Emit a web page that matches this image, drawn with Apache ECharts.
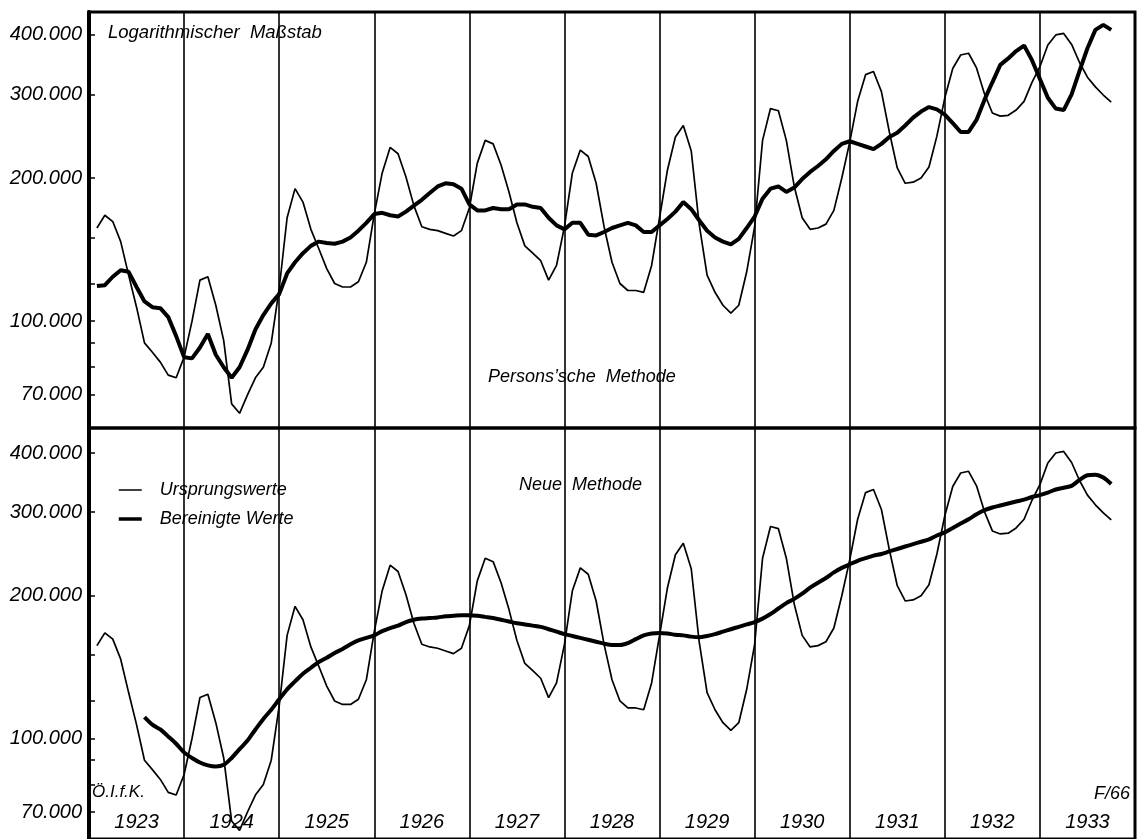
<!DOCTYPE html>
<html>
<head>
<meta charset="utf-8">
<script src="https://cdn.jsdelivr.net/npm/echarts@6/dist/echarts.min.js"></script>
<style>
html,body{margin:0;padding:0;background:#fff;}
#chart{width:1137px;height:839px;}
</style>
</head>
<body>
<div id="chart"></div>
<script>
// ---- data (values in thousands, monthly, end-of-month, Jan 1923 .. Sep 1933) ----
const startYear = 1923;
const years = ['1923','1924','1925','1926','1927','1928','1929','1930','1931','1932','1933'];
const yTickLabels = [70000, 100000, 200000, 300000, 400000];
const yTicks = [70000, 80000, 90000, 100000, 120000, 150000, 200000, 300000, 400000];

// Ursprungswerte (original values)
const originalValues = [
  157, 167, 162, 147, 125, 107, 90, 86, 82, 77, 76, 84,          // 1923
  100, 122, 124, 108, 91, 67, 64, 70, 76, 80, 90, 117,           // 1924
  165, 190, 178, 156, 142, 129, 120, 118, 118, 121, 133, 168,    // 1925
  205, 232, 225, 201, 175, 158, 156, 155, 153, 151, 155, 173,    // 1926
  215, 240, 236, 213, 187, 161, 144, 139, 134, 122, 131, 158,    // 1927
  205, 229, 222, 195, 158, 133, 120, 116, 116, 115, 131, 165,    // 1928
  208, 244, 258, 228, 160, 125, 115, 108, 104, 108, 127, 158,    // 1929
  240, 280, 277, 240, 192, 165, 156, 157, 160, 171, 200, 238,    // 1930
  290, 330, 335, 304, 250, 210, 195, 196, 200, 211, 245, 295,    // 1931
  340, 363, 366, 341, 301, 274, 270, 271, 278, 290, 318, 343,    // 1932
  381, 400, 403, 382, 350, 326, 311, 299, 289                    // 1933
];

// Bereinigte Werte, Persons'sche Methode (top panel)
const personsValues = [
  118.5, 119, 124, 128, 127, 118, 110, 107, 106.5, 102, 93, 84,  // 1923
  83.5, 88, 94, 85, 80, 76, 80, 87, 96, 103, 109, 114,           // 1924
  126, 133, 139, 144, 147, 146, 145.5, 147, 150, 155, 161, 168,  // 1925
  169, 167, 166, 170, 175, 180, 186, 192, 195, 194, 190, 176,    // 1926
  171, 171, 173, 172, 172, 176, 176, 174, 173, 165, 159, 156,    // 1927
  161, 161, 152, 151.5, 154, 157, 159, 161, 159, 154, 154, 159,  // 1928
  164, 170, 178, 172, 163, 155, 150, 147, 145, 149, 157, 166,    // 1929
  181, 190, 192, 187, 191, 199, 206, 212, 219, 228, 236, 239,    // 1930
  236, 233, 230, 236, 244, 249, 258, 268, 276, 282, 279, 272,    // 1931
  261, 250, 250, 265, 292, 318, 346, 357, 370, 380, 354, 323,    // 1932
  295, 280, 278, 300, 336, 375, 410, 420, 410                    // 1933
];

// Bereinigte Werte, Neue Methode (bottom panel), starts Jul 1923
const neueStartMonth = 6;
const neueValues = [
  111, 107, 104.5, 101, 97.5, 93.5,                              // 1923 (Jul-Dec)
  91, 89, 87.8, 87.3, 88, 91, 95, 99, 104.5, 110, 115, 121,      // 1924
  127, 132, 137, 141, 145, 148, 151.5, 154.5, 158, 161, 163, 165,// 1925
  168.5, 171, 173, 176, 178, 179, 179.5, 180, 181, 181.5, 182, 182, // 1926
  181.5, 180.5, 179.5, 178, 176.5, 175, 174, 173, 172, 170, 168, 166, // 1927
  164.5, 163, 161.5, 160, 158.5, 157.5, 157.5, 159, 162, 165, 166.5, 167, // 1928
  166.5, 165.5, 165, 164, 163.5, 164.5, 166, 168, 170, 172, 174, 176, // 1929
  179, 183, 188, 193, 197, 202, 208, 213, 218, 224, 229, 233,    // 1930
  237, 240, 243, 245, 248, 251, 254, 257, 260, 263, 268, 272,    // 1931
  278, 284, 290, 297, 303, 307, 310, 313, 316, 319, 323, 326,    // 1932
  330, 335, 338, 341, 351, 359, 360, 355, 344                    // 1933
];

// ---- build ----
const monthPos = i => startYear + (i + 1) / 12;  // end of month i
const toPairs = (arr, offset) => arr.map((v, k) => [monthPos(k + offset), v * 1000]);
const fmt = v => String(v).replace(/\B(?=(\d{3})+(?!\d))/g, '.');
const FONT = "'Liberation Sans', Arial, sans-serif";

function yAxis(gridIndex, min, max) {
  return {
    type: 'log', logBase: 10, gridIndex, min, max,
    axisLine: { show: true, lineStyle: { color: '#000', width: 4 } },
    axisTick: { show: true, inside: true, length: 6, customValues: yTicks, lineStyle: { color: '#000', width: 1.5 } },
    axisLabel: { show: true, customValues: yTickLabels, formatter: v => fmt(v), margin: 7,
      color: '#000', fontSize: 20, fontStyle: 'italic', fontFamily: FONT },
    splitLine: { show: false }, minorTick: { show: false }
  };
}
function yearAxis(gridIndex, showLabels) {
  return {
    type: 'category', gridIndex, data: years, position: 'bottom', boundaryGap: true,
    axisLine: { show: false }, axisTick: { show: false },
    axisLabel: { show: showLabels, inside: true, margin: 7, interval: 0, color: '#000',
      fontSize: 20, fontStyle: 'italic', fontFamily: FONT },
    splitLine: { show: true, interval: 0, lineStyle: { color: '#000', width: 1.6 } }
  };
}
const thin = { color: '#000', width: 1.7 };
const thick = { color: '#000', width: 4 };

const option = {
  animation: false,
  backgroundColor: '#fff',
  grid: [
    { left: 89, right: 2, top: 12, height: 416, show: true, borderColor: '#000', borderWidth: 3 },
    { left: 89, right: 2, top: 428, bottom: 0, show: true, borderColor: '#000', borderWidth: 3 }
  ],
  xAxis: [
    { type: 'value', gridIndex: 0, min: 1923, max: 1934, show: false },
    { type: 'value', gridIndex: 1, min: 1923, max: 1934, show: false },
    yearAxis(0, false),
    yearAxis(1, true)
  ],
  yAxis: [ yAxis(0, 59600, 447000), yAxis(1, 61400, 451600) ],
  legend: {
    data: [
      { name: 'Ursprungswerte', lineStyle: { width: 1.5, color: '#000' } },
      { name: 'Bereinigte Werte', lineStyle: { width: 3.5, color: '#000' } }
    ],
    orient: 'vertical', left: 112, top: 476, itemWidth: 23, itemHeight: 14, itemGap: 11,
    selectedMode: false,
    itemStyle: { opacity: 0, borderWidth: 0 },
    textStyle: { color: '#000', fontSize: 18, fontStyle: 'italic', fontFamily: FONT, padding: [0, 0, 0, 13] }
  },
  series: [
    { name: 'Ursprungswerte', type: 'line', xAxisIndex: 0, yAxisIndex: 0, symbol: 'none',
      data: toPairs(originalValues, 0), lineStyle: thin, itemStyle: { color: '#000' }, silent: true },
    { name: 'Bereinigte Werte', type: 'line', xAxisIndex: 0, yAxisIndex: 0, symbol: 'none',
      data: toPairs(personsValues, 0), lineStyle: thick, itemStyle: { color: '#000' }, silent: true },
    { name: 'Ursprungswerte', type: 'line', xAxisIndex: 1, yAxisIndex: 1, symbol: 'none',
      data: toPairs(originalValues, 0), lineStyle: thin, itemStyle: { color: '#000' }, silent: true },
    { name: 'Bereinigte Werte', type: 'line', xAxisIndex: 1, yAxisIndex: 1, symbol: 'none', smooth: 0.3,
      data: toPairs(neueValues, neueStartMonth), lineStyle: thick, itemStyle: { color: '#000' }, silent: true }
  ],
  graphic: [
    { type: 'text', left: 108, top: 23, style: { text: 'Logarithmischer  Maßstab', fill: '#000', font: 'italic 18.5px ' + FONT } },
    { type: 'text', left: 488, top: 368, style: { text: 'Persons’sche  Methode', fill: '#000', font: 'italic 18px ' + FONT } },
    { type: 'text', left: 519, top: 476, style: { text: 'Neue  Methode', fill: '#000', font: 'italic 18px ' + FONT } },
    { type: 'text', left: 92, top: 784, style: { text: 'Ö.I.f.K.', fill: '#000', font: 'italic 17px ' + FONT } },
    { type: 'text', left: 1094, top: 785, style: { text: 'F/66', fill: '#000', font: 'italic 18px ' + FONT } }
  ]
};
const chart = echarts.init(document.getElementById('chart'), null, { renderer: 'canvas' });
chart.setOption(option);
</script>
</body>
</html>
